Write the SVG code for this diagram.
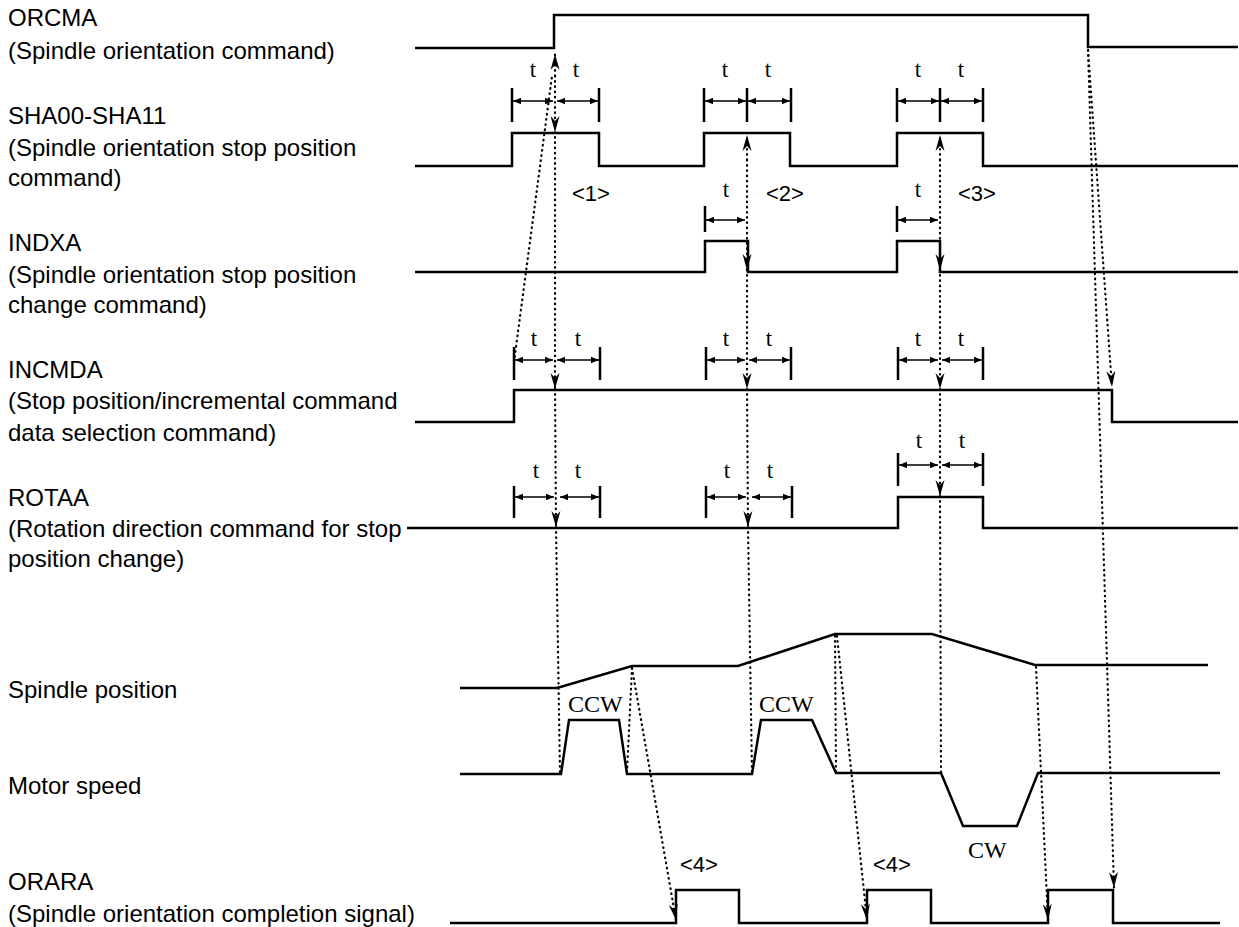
<svg xmlns="http://www.w3.org/2000/svg" width="1239" height="927" viewBox="0 0 1239 927">
<style>
.lbl{font-family:"Liberation Sans",Arial,sans-serif;font-size:24px;fill:#000}
.num{font-family:"Liberation Sans",Arial,sans-serif;font-size:22px;fill:#000}
.ser{font-family:"Liberation Serif","Times New Roman",serif;font-size:24px;fill:#000}
.tt{font-family:"Liberation Serif","Times New Roman",serif;font-size:23px;fill:#000;text-anchor:middle}
.sig{fill:none;stroke:#000;stroke-width:2.5;stroke-linejoin:miter}
.bar{stroke:#000;stroke-width:2.5}
.tarr{stroke:#000;stroke-width:1.5;marker-start:url(#sa);marker-end:url(#sa)}
.dot{fill:none;stroke:#000;stroke-width:2.2;stroke-linecap:round;stroke-dasharray:0.6 4.6}
.da{marker-end:url(#ah)}
</style>
<defs>
<marker id="ah" viewBox="-17 -6 18 12" refX="0" refY="0" markerWidth="18" markerHeight="12" markerUnits="userSpaceOnUse" orient="auto">
<path d="M0,0 L-16,-4.5 L-11,0 L-16,4.5 Z" fill="#000"/>
</marker>
<marker id="sa" viewBox="-9 -4 10 8" refX="0" refY="0" markerWidth="10" markerHeight="8" markerUnits="userSpaceOnUse" orient="auto-start-reverse">
<path d="M0,0 L-8,-3.2 L-8,3.2 Z" fill="#000"/>
</marker>
</defs>
<rect width="1239" height="927" fill="#fff"/>

<g id="orcma">
<text class="lbl" x="8" y="26">ORCMA</text>
<text class="lbl" x="8" y="59">(Spindle orientation command)</text>
<path class="sig" d="M415,48 H554 V15 H1088 V47 H1238"/>
</g>

<g id="sha">
<text class="lbl" x="8" y="124">SHA00-SHA11</text>
<text class="lbl" x="8" y="156">(Spindle orientation stop position</text>
<text class="lbl" x="8" y="186">command)</text>
<path class="sig" d="M415,166 H512 V133 H599 V166 H704 V133 H790 V166 H897 V133 H983 V166 H1238"/>
<g id="sha-t">
<line class="bar" x1="512" y1="88" x2="512" y2="122"/><line class="bar" x1="599" y1="88" x2="599" y2="122"/>
<line class="tarr" x1="513" y1="101" x2="553" y2="101"/><line class="tarr" x1="557" y1="101" x2="598" y2="101"/>
<text class="tt" x="533" y="77">t</text><text class="tt" x="576" y="77">t</text>
<line class="bar" x1="704" y1="88" x2="704" y2="122"/><line class="bar" x1="747" y1="88" x2="747" y2="122"/><line class="bar" x1="791" y1="88" x2="791" y2="122"/>
<line class="tarr" x1="705" y1="101" x2="746" y2="101"/><line class="tarr" x1="748" y1="101" x2="790" y2="101"/>
<text class="tt" x="725" y="77">t</text><text class="tt" x="768" y="77">t</text>
<line class="bar" x1="897" y1="88" x2="897" y2="122"/><line class="bar" x1="940" y1="88" x2="940" y2="122"/><line class="bar" x1="983" y1="88" x2="983" y2="122"/>
<line class="tarr" x1="898" y1="101" x2="939" y2="101"/><line class="tarr" x1="941" y1="101" x2="982" y2="101"/>
<text class="tt" x="918" y="77">t</text><text class="tt" x="961" y="77">t</text>
</g>
<text class="num" x="572" y="201">&lt;1&gt;</text>
<text class="num" x="766" y="201">&lt;2&gt;</text>
<text class="num" x="958" y="201">&lt;3&gt;</text>
</g>

<g id="indxa">
<text class="lbl" x="8" y="251">INDXA</text>
<text class="lbl" x="8" y="283">(Spindle orientation stop position</text>
<text class="lbl" x="8" y="313">change command)</text>
<path class="sig" d="M415,272 H705 V241 H748 V272 H897 V241 H940 V272 H1238"/>
<line class="bar" x1="705" y1="206" x2="705" y2="232"/>
<line class="tarr" x1="706" y1="220" x2="745" y2="220"/>
<text class="tt" x="726" y="197">t</text>
<line class="bar" x1="897" y1="206" x2="897" y2="232"/>
<line class="tarr" x1="898" y1="220" x2="938" y2="220"/>
<text class="tt" x="918" y="197">t</text>
</g>

<g id="incmda">
<text class="lbl" x="8" y="378">INCMDA</text>
<text class="lbl" x="8" y="409">(Stop position/incremental command</text>
<text class="lbl" x="8" y="441">data selection command)</text>
<path class="sig" d="M415,422 H514 V390 H1112 V422 H1238"/>
<line class="bar" x1="514" y1="347" x2="514" y2="380"/><line class="bar" x1="600" y1="347" x2="600" y2="380"/>
<line class="tarr" x1="515" y1="360" x2="553" y2="360"/><line class="tarr" x1="557" y1="360" x2="599" y2="360"/>
<text class="tt" x="534" y="346">t</text><text class="tt" x="578" y="346">t</text>
<line class="bar" x1="706" y1="347" x2="706" y2="380"/><line class="bar" x1="791" y1="347" x2="791" y2="380"/>
<line class="tarr" x1="707" y1="360" x2="745" y2="360"/><line class="tarr" x1="749" y1="360" x2="790" y2="360"/>
<text class="tt" x="726" y="346">t</text><text class="tt" x="769" y="346">t</text>
<line class="bar" x1="898" y1="347" x2="898" y2="380"/><line class="bar" x1="983" y1="347" x2="983" y2="380"/>
<line class="tarr" x1="899" y1="360" x2="938" y2="360"/><line class="tarr" x1="942" y1="360" x2="982" y2="360"/>
<text class="tt" x="918" y="346">t</text><text class="tt" x="961" y="346">t</text>
</g>

<g id="rotaa">
<text class="lbl" x="8" y="506">ROTAA</text>
<text class="lbl" x="8" y="537">(Rotation direction command for stop</text>
<text class="lbl" x="8" y="567">position change)</text>
<path class="sig" d="M407,528 H898 V497 H983 V528 H1238"/>
<line class="bar" x1="514" y1="486" x2="514" y2="518"/><line class="bar" x1="600" y1="486" x2="600" y2="518"/>
<line class="tarr" x1="515" y1="497" x2="554" y2="497"/><line class="tarr" x1="560" y1="497" x2="599" y2="497"/>
<text class="tt" x="536" y="478">t</text><text class="tt" x="578" y="478">t</text>
<line class="bar" x1="706" y1="486" x2="706" y2="518"/><line class="bar" x1="792" y1="486" x2="792" y2="518"/>
<line class="tarr" x1="707" y1="497" x2="746" y2="497"/><line class="tarr" x1="752" y1="497" x2="791" y2="497"/>
<text class="tt" x="727" y="478">t</text><text class="tt" x="770" y="478">t</text>
<line class="bar" x1="898" y1="453" x2="898" y2="486"/><line class="bar" x1="983" y1="453" x2="983" y2="486"/>
<line class="tarr" x1="899" y1="465" x2="938" y2="465"/><line class="tarr" x1="942" y1="465" x2="982" y2="465"/>
<text class="tt" x="919" y="448">t</text><text class="tt" x="962" y="448">t</text>
</g>

<g id="spindle-position">
<text class="lbl" x="8" y="698">Spindle position</text>
<path class="sig" d="M460,688 L557,688 L632,666 L738,666 L835,634 L932,634 L1035,665 L1208,665"/>
</g>

<g id="motor-speed">
<text class="lbl" x="8" y="794">Motor speed</text>
<path class="sig" d="M460,774 L561,774 L569,720 L619,720 L627,774 L752,774 L761,720 L812,720 L836,773 L941,773 L963,826 L1017,826 L1038,773 L1220,773"/>
<text class="ser" x="568" y="712">CCW</text>
<text class="ser" x="759" y="712">CCW</text>
<text class="ser" x="968" y="858">CW</text>
</g>

<g id="orara">
<text class="lbl" x="8" y="890">ORARA</text>
<text class="lbl" x="8" y="922">(Spindle orientation completion signal)</text>
<path class="sig" d="M450,923 H676 V890 H739 V923 H867 V890 H931 V923 H1048 V890 H1113 V923 H1220"/>
<text class="num" x="680" y="872">&lt;4&gt;</text>
<text class="num" x="873" y="872">&lt;4&gt;</text>
</g>

<g id="connectors">
<path class="dot da" d="M555,76 L555,54"/>
<path class="dot" d="M514,362 L552,76"/>
<path class="dot da" d="M555,76 L555,132"/>
<path class="dot da" d="M555,132 L555,389"/>
<path class="dot da" d="M555,389 L556,527"/>
<path class="dot" d="M556,527 L560,774"/>

<path class="dot da" d="M747,160 L747,135"/>
<path class="dot da" d="M747,160 L747,270"/>
<path class="dot da" d="M747,270 L747,389"/>
<path class="dot da" d="M747,389 L748,527"/>
<path class="dot" d="M748,527 L752,773"/>

<path class="dot da" d="M940,160 L940,135"/>
<path class="dot da" d="M940,160 L940,270"/>
<path class="dot da" d="M940,270 L940,389"/>
<path class="dot da" d="M940,389 L940,496"/>
<path class="dot" d="M940,496 L941,773"/>

<path class="dot da" d="M1088,50 L1112,387"/>
<path class="dot da" d="M1088,50 L1114,888"/>

<path class="dot" d="M632,668 L627,772"/>
<path class="dot da" d="M632,668 L676,920"/>
<path class="dot" d="M835,636 L836,772"/>
<path class="dot da" d="M837,636 L867,920"/>
<path class="dot da" d="M1036,667 L1048,920"/>
</g>
</svg>
